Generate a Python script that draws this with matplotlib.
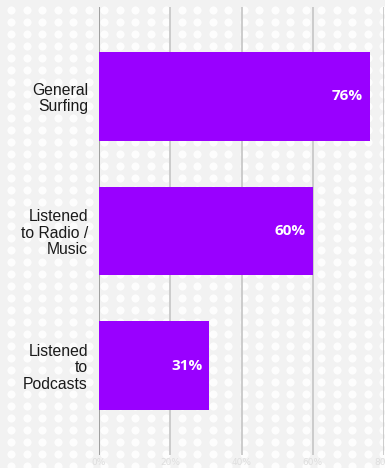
import numpy as np
import matplotlib
matplotlib.use("Agg")
import matplotlib.pyplot as plt

categories = ["General\nSurfing", "Listened\nto Radio /\nMusic", "Listened\nto\nPodcasts"]
values = [76, 60, 31]
xticks = [0, 20, 40, 60, 80]
xtick_labels = ["0%", "20%", "40%", "60%", "80%"]

W, H, DPI = 385, 468, 100
fig = plt.figure(figsize=(W / DPI, H / DPI), dpi=DPI)
fig.patch.set_facecolor("#f2f2f2")

# dotted backdrop
bg = fig.add_axes([0, 0, 1, 1], zorder=0)
bg.set_xlim(0, W)
bg.set_ylim(H, 0)
bg.axis("off")
gx, gy = np.meshgrid(np.arange(11, W + 8, 15.5), np.arange(10, H + 8, 12))
bg.scatter(gx.ravel(), gy.ravel(), s=34, color="white", alpha=0.9, linewidths=0)

ax = fig.add_axes([99 / W, 13 / H, (384 - 99) / W, (455 - 7) / H], zorder=1)
ax.set_facecolor("none")
ypos = np.arange(len(categories))
ax.barh(ypos, values, height=0.655, color="#9900ff", zorder=3)
ax.set_xlim(0, 80)
ax.set_ylim(len(categories) - 1 + 0.665, -0.665)

for x in xticks:
    ax.axvline(x, color="#999999" if x == 0 else "#c8c8c8", lw=1.3, zorder=1)

for y, v in zip(ypos, values):
    ax.text(v - 2.0, y, f"{v}%", ha="right", va="center", color="white",
            fontsize=11, fontweight="bold", family="Open Sans", zorder=4)

ax.set_yticks(ypos)
ax.set_yticklabels(categories, fontsize=11.3, family="Liberation Sans",
                   color="#1a1a1a", linespacing=1.12)
ax.set_xticks(xticks)
ax.set_xticklabels(xtick_labels, fontsize=6.5, color="#dedede")
ax.tick_params(axis="y", length=0, pad=8)
ax.tick_params(axis="x", length=0, pad=2)
for s in ax.spines.values():
    s.set_visible(False)

fig.savefig("out.png", dpi=DPI, facecolor=fig.get_facecolor())
